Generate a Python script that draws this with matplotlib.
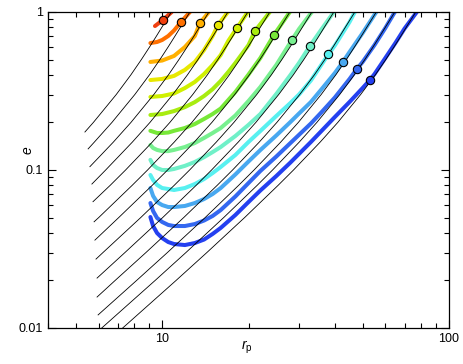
import numpy as np
import matplotlib
matplotlib.use("Agg")
import matplotlib.pyplot as plt
from matplotlib.ticker import FixedLocator, FixedFormatter, NullFormatter

plt.rcParams['font.family'] = ['Liberation Sans', 'DejaVu Sans']
plt.rcParams['mathtext.fontset'] = 'custom'
plt.rcParams['mathtext.rm'] = 'Liberation Sans'
plt.rcParams['mathtext.it'] = 'Liberation Sans:italic'

# shape of the thin black tracks: rp / rp(e=1) against e
TRACK_E = [0.005, 0.01, 0.02, 0.03, 0.05, 0.08, 0.1, 0.15, 0.2, 0.3, 0.4, 0.5,
           0.6, 0.7, 0.8, 0.9, 0.95, 1.0]
TRACK_F = [0.0617, 0.0951, 0.146, 0.1868, 0.2531, 0.3312, 0.3747, 0.4639, 0.5346,
           0.642, 0.7223, 0.7858, 0.839, 0.8851, 0.9262, 0.9644, 0.9824, 1.0]

# each black track: rp where it reaches e=1, and where it starts
TRACK_RP1 = [10.77, 12.5, 14.56, 16.96, 19.9, 23.74, 27.88, 33.27, 39.68, 46.97,
             55.8, 64.75, 76.6]
START_RP = [5.38, 5.52, 5.60, 5.69, 5.74, 5.79, 5.83, 5.88, 5.93, 5.93, 5.98, 4.0, 4.73]
START_E = [0.174, 0.136, 0.105, 0.0815, 0.063, 0.047, 0.036, 0.0273, 0.0207,
           0.0157, 0.0121, 0.005, 0.005]

# coloured runs (red at the top down to dark blue at the bottom)
RUN_RP = [
    [9.44, 10.06, 10.8],
    [9.1, 9.6, 10.0, 10.5, 11.0, 11.63, 12.5],
    [9.1, 10, 11, 12, 13, 13.54, 14.56],
    [9.1, 10, 11, 12, 13, 14, 15, 15.65, 16.96],
    [9.1, 10, 11, 12, 13, 14, 15, 16, 17, 18.22, 19.9],
    [9.1, 10, 11, 12, 13, 14, 15, 16, 17, 18, 20, 21.06, 22, 23.74],
    [9.1, 9.6, 10, 10.5, 11, 12, 13, 14, 15, 16, 18, 20, 22, 24.52, 27.88],
    [9.1, 9.3, 9.6, 10, 10.5, 11, 12, 13, 14, 15, 16, 18, 20, 22, 25, 28.33, 30, 33.27],
    [9.1, 9.3, 9.6, 10, 10.5, 11, 12, 13, 14, 15, 16, 18, 20, 22, 25, 28, 30, 32.73,
     36, 39.68],
    [9.1, 9.3, 9.6, 10, 10.5, 11, 12, 13, 14, 15, 16, 18, 20, 22, 25, 28, 30, 33,
     37.83, 40, 45, 46.97],
    [9.1, 9.3, 9.6, 10, 10.5, 11, 12, 13, 14, 15, 16, 18, 20, 22, 25, 28, 30, 33, 36,
     40, 42.66, 45, 50, 55.8],
    [9.1, 9.3, 9.6, 10, 10.5, 11, 12, 13, 14, 15, 16, 18, 20, 22, 25, 28, 33, 36, 40,
     45, 47.72, 50, 55, 60, 64.75],
    [9.1, 9.3, 9.6, 10, 10.5, 11, 12, 13, 14, 15, 16, 18, 20, 22, 25, 28, 33, 40, 45,
     50, 52.98, 55, 60, 65, 70, 77.25],
]
RUN_E = [
    [0.815, 0.890, 1.0],
    [0.636, 0.646, 0.665, 0.705, 0.764, 0.864, 1.0],
    [0.483, 0.493, 0.527, 0.600, 0.705, 0.852, 1.0],
    [0.371, 0.377, 0.394, 0.430, 0.483, 0.575, 0.705, 0.827, 1.0],
    [0.290, 0.294, 0.305, 0.330, 0.361, 0.405, 0.462, 0.534, 0.656, 0.792, 1.0],
    [0.223, 0.226, 0.236, 0.250, 0.269, 0.294, 0.325, 0.366, 0.417, 0.476, 0.618,
     0.758, 0.839, 1.0],
    [0.177, 0.1715, 0.1715, 0.1726, 0.177, 0.1844, 0.1955, 0.2104, 0.2262, 0.2449,
     0.3115, 0.402, 0.5117, 0.715, 1.0],
    [0.144, 0.1378, 0.134, 0.1317, 0.1317, 0.134, 0.1398, 0.1482, 0.1595, 0.1715,
     0.1844, 0.2213, 0.2733, 0.3354, 0.4622, 0.665, 0.7806, 1.0],
    [0.116, 0.1075, 0.1029, 0.100, 0.100, 0.1015, 0.1062, 0.1124, 0.1206, 0.1299,
     0.1398, 0.1641, 0.193, 0.2262, 0.3027, 0.399, 0.476, 0.609, 0.7806, 1.0],
    [0.0930, 0.0864, 0.0805, 0.0769, 0.0758, 0.0747, 0.0769, 0.0815, 0.0877, 0.0957,
     0.1045, 0.1244, 0.1504, 0.1766, 0.2197, 0.2655, 0.3005, 0.3685, 0.534, 0.6137,
     0.864, 1.0],
    [0.0769, 0.0685, 0.0627, 0.0600, 0.0583, 0.0583, 0.0592, 0.0618, 0.0655, 0.0705,
     0.0769, 0.0937, 0.1132, 0.1338, 0.1654, 0.2013, 0.2278, 0.2694, 0.3256, 0.4111,
     0.4824, 0.558, 0.7365, 1.0],
    [0.0618, 0.0550, 0.0497, 0.0469, 0.0449, 0.0442, 0.0442, 0.0455, 0.0479, 0.0512,
     0.0558, 0.0680, 0.0827, 0.0986, 0.1217, 0.1482, 0.1969, 0.2329, 0.2876, 0.3767,
     0.436, 0.483, 0.6181, 0.792, 1.0],
    [0.0504, 0.0442, 0.0399, 0.0371, 0.0350, 0.0340, 0.0335, 0.0345, 0.0363, 0.0394,
     0.0430, 0.0519, 0.0627, 0.0742, 0.0916, 0.1115, 0.1504, 0.2165, 0.2694, 0.3304,
     0.371, 0.405, 0.5117, 0.636, 0.786, 1.0],
]
# circle markers on each run
DOT_RP = [10.06, 11.63, 13.54, 15.65, 18.22, 21.06, 24.52, 28.33, 32.73, 37.83,
          42.66, 47.72, 52.98]
DOT_E = [0.890, 0.864, 0.852, 0.827, 0.792, 0.758, 0.715, 0.665, 0.609, 0.545,
         0.485, 0.436, 0.371]

COLORS = ['#f04010', '#ff7000', '#ffb000', '#e8e800', '#d0f000', '#a8ec10',
          '#78e838', '#78f090', '#70f0c8', '#58f0f0', '#48a8f0', '#3468f0', '#2440f0']

fig = plt.figure(figsize=(4.63, 3.64), dpi=100)
ax = fig.add_axes([48/463, 1-328/364, 401/463, 316/364])

for i in range(len(RUN_RP)):
    ax.plot(RUN_RP[i], RUN_E[i], color=COLORS[i], lw=2.9, solid_capstyle='round',
            solid_joinstyle='round', zorder=2)

for rp1, rs, es in zip(TRACK_RP1, START_RP, START_E):
    xs = [rs] + [rp1*f for e, f in zip(TRACK_E, TRACK_F) if e > es]
    ys = [es] + [e for e in TRACK_E if e > es]
    ax.plot(xs, ys, color='k', lw=0.6, zorder=3)

for i in range(len(DOT_RP)):
    ax.plot(DOT_RP[i], DOT_E[i], 'o', ms=6, mfc=COLORS[i], mec='k', mew=0.8, zorder=4)

ax.set_xscale('log')
ax.set_yscale('log')
ax.set_xlim(4, 100)
ax.set_ylim(0.01, 1)

ax.xaxis.set_major_locator(FixedLocator([10, 100]))
ax.xaxis.set_major_formatter(FixedFormatter(['10', '100']))
ax.xaxis.set_minor_locator(FixedLocator([4, 5, 6, 7, 8, 9, 20, 30, 40, 50, 60, 70, 80, 90]))
ax.xaxis.set_minor_formatter(NullFormatter())
ax.yaxis.set_major_locator(FixedLocator([0.01, 0.1, 1]))
ax.yaxis.set_major_formatter(FixedFormatter(['0.01', '0.1', '1']))
ax.yaxis.set_minor_locator(FixedLocator([0.02, 0.03, 0.04, 0.05, 0.06, 0.07, 0.08, 0.09,
                                         0.2, 0.3, 0.4, 0.5, 0.6, 0.7, 0.8, 0.9]))
ax.yaxis.set_minor_formatter(NullFormatter())

ax.tick_params(which='both', direction='in', top=True, right=True, labelsize=9, width=0.8)
ax.tick_params(which='major', length=6)
ax.tick_params(which='minor', length=3.5)
for s in ax.spines.values():
    s.set_linewidth(0.9)

ax.set_xlabel(r'$r_{\rm p}$', fontsize=10)
ax.set_ylabel(r'$e$', fontsize=10)
ax.xaxis.set_label_coords(0.495, -0.035)
ax.yaxis.set_label_coords(-0.032, 0.563)

fig.savefig('out.png', dpi=100)
